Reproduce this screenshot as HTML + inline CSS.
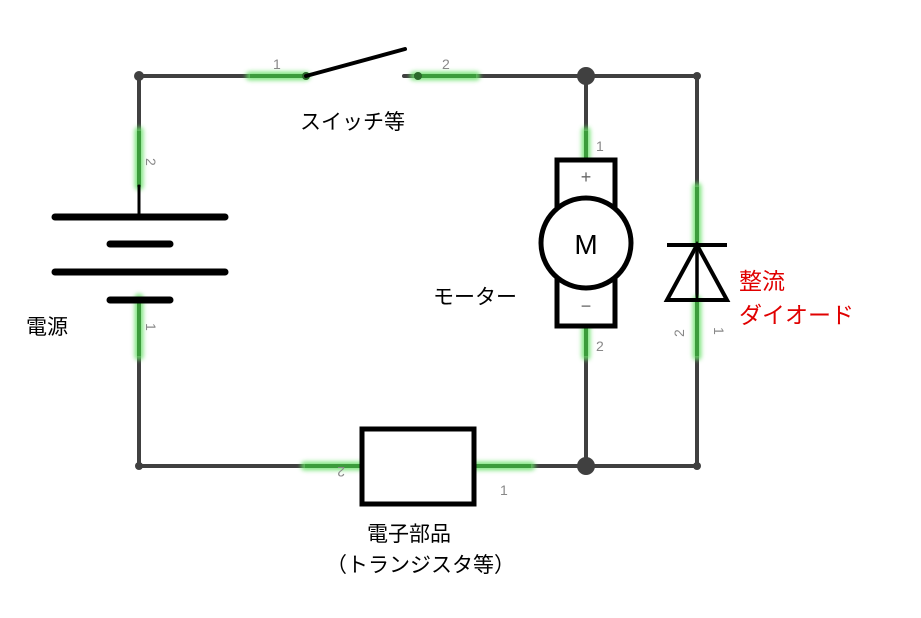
<!DOCTYPE html>
<html><head><meta charset="utf-8"><style>
body{margin:0;background:#fff}
svg{display:block}
.t{font-family:"Liberation Sans","Noto Sans CJK JP",sans-serif}
</style></head><body>
<svg width="921" height="618" viewBox="0 0 921 618" xmlns="http://www.w3.org/2000/svg">
<defs><filter id="g" x="-50%" y="-50%" width="200%" height="200%"><feGaussianBlur stdDeviation="2"/></filter></defs>
<g stroke="#404040" stroke-width="4" fill="none" stroke-linecap="round">
<path d="M139 186V76H250 M414 76H697V466H139V356 M586 76V466"/>
<path d="M404 76H414"/>
</g>
<g stroke="#66e066" stroke-width="9" stroke-linecap="round" filter="url(#g)" opacity="0.8">
<path d="M250 76H306 M414 76H476 M139 131V186 M139 298V356 M305 466H361 M474 466H531 M586 131V158 M586 327V356 M697 187V245 M697 300V356"/>
</g>
<g stroke="#3c9c3c" stroke-width="4">
<path d="M250 76H306 M414 76H476 M139 131V186 M139 300V356 M305 466H361 M474 466H531 M586 131V158 M586 327V356 M697 187V245 M697 300V356"/>
</g>
<g fill="#404040">
<circle cx="139" cy="76" r="5"/><circle cx="697" cy="76" r="4"/><circle cx="697" cy="466" r="4"/><circle cx="139" cy="466" r="4"/>
<circle cx="586" cy="76" r="9"/><circle cx="586" cy="466" r="9"/>
</g>
<g fill="#2a6a2a"><circle cx="306" cy="76" r="4"/><circle cx="418" cy="76" r="4"/></g>
<line x1="306" y1="76" x2="405" y2="49" stroke="#000" stroke-width="4" stroke-linecap="round"/>
<g stroke="#000" stroke-width="7" stroke-linecap="round">
<line x1="139" y1="186" x2="139" y2="216" stroke-width="3"/>
<line x1="55" y1="217" x2="225" y2="217"/>
<line x1="110" y1="244" x2="170" y2="244"/>
<line x1="55" y1="272" x2="225" y2="272"/>
<line x1="110" y1="300" x2="170" y2="300"/>
</g>
<rect x="557" y="160" width="58" height="166" fill="#fff" stroke="#000" stroke-width="5"/>
<circle cx="586" cy="243" r="45" fill="#fff" stroke="#000" stroke-width="5"/>
<text x="586" y="254" class="t" font-size="28" text-anchor="middle" fill="#000">M</text>
<text x="586" y="183" class="t" font-size="18" text-anchor="middle" fill="#666">+</text>
<text x="586" y="312" class="t" font-size="18" text-anchor="middle" fill="#666">−</text>
<g stroke="#000" stroke-width="4" fill="none">
<line x1="667" y1="245" x2="727" y2="245"/>
<path d="M697 245 L667 300 H727 Z"/>
<line x1="697" y1="245" x2="697" y2="300" stroke-width="2"/>
</g>
<rect x="362" y="429" width="112" height="75" fill="#fff" stroke="#000" stroke-width="5"/>
<g class="t" font-size="14" fill="#888">
<text x="273" y="69">1</text><text x="442" y="69">2</text>
<text x="596" y="151">1</text><text x="596" y="351">2</text>
<text x="500" y="495">1</text>
<text transform="translate(345,467) rotate(180)">2</text>
<text transform="translate(146,158) rotate(90)">2</text>
<text transform="translate(146,323) rotate(90)">1</text>
<text transform="translate(684,337) rotate(-90)">2</text>
<text transform="translate(714,327) rotate(90)">1</text>
</g>
<g class="t" font-size="21" fill="#000">
<text x="300" y="129">スイッチ等</text>
<text x="26" y="334">電源</text>
<text x="433" y="304">モーター</text>
<text x="367" y="541">電子部品</text>
<text x="326" y="572">（トランジスタ等）</text>
</g>
<g class="t" font-size="23" fill="#e00000">
<text x="739" y="289">整流</text>
<text x="739" y="323">ダイオード</text>
</g>
</svg>
</body></html>
